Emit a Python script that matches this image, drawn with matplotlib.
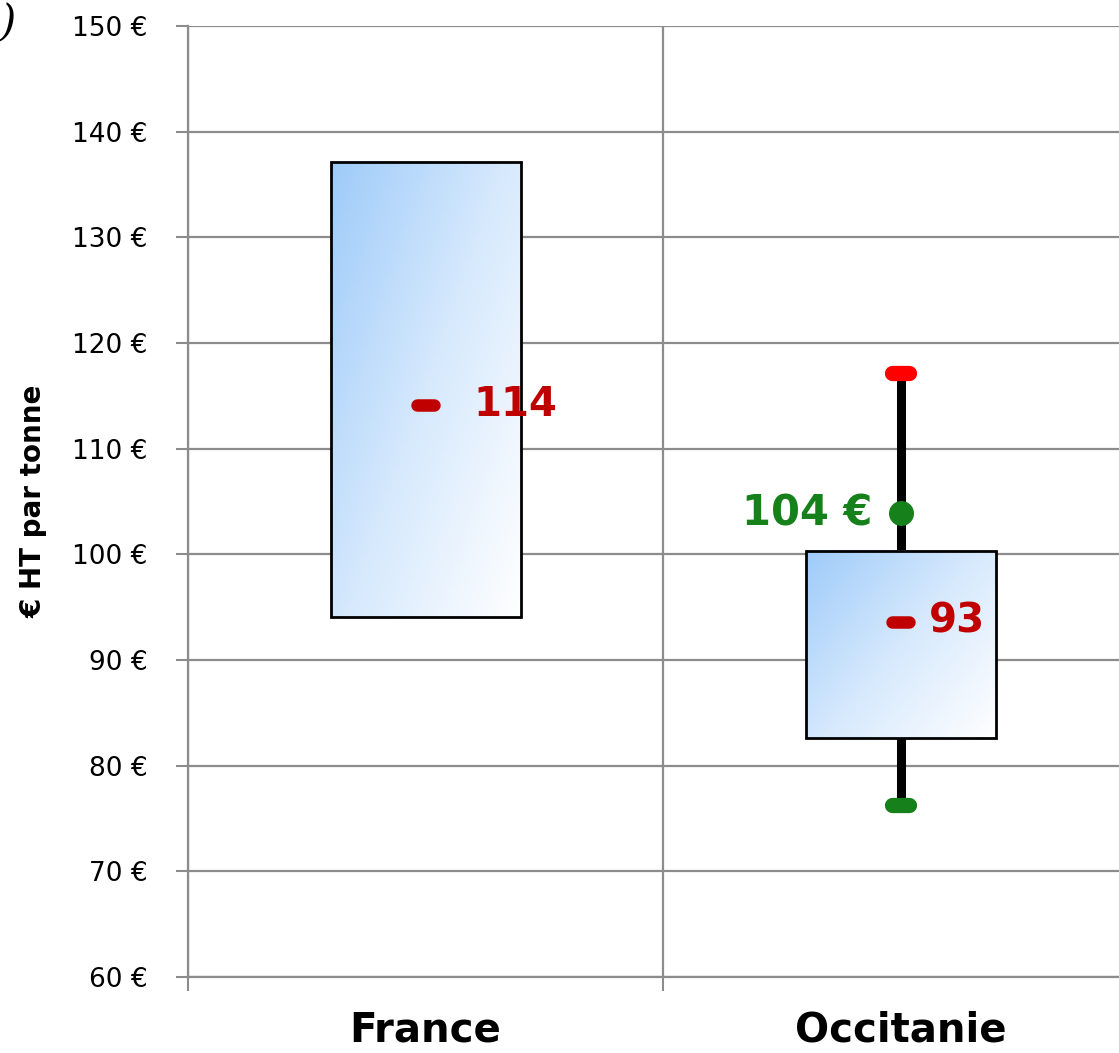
import numpy as np
import matplotlib
matplotlib.use('Agg')
import matplotlib.pyplot as plt
from matplotlib.colors import LinearSegmentedColormap

# data
regions = ['France', 'Occitanie']
box_low = [94.1, 82.6]
box_high = [137.1, 100.3]
medians = [114.1, 93.6]
median_labels = ['114', '93']
whisker_low = [None, 76.3]
whisker_high = [None, 117.2]
point_value = [None, 103.9]
point_labels = [None, '104 €']
yticks = list(range(60, 151, 10))

plt.rcParams['font.family'] = ['DejaVu Sans']

fig = plt.figure(figsize=(11.19, 10.53), dpi=100)
ax = fig.add_axes([188 / 1119, 76 / 1053, 950 / 1119, 951 / 1053])

grey = '#8c8c8c'
dark_red = '#c00000'
green = '#16801a'

ax.set_xlim(0, 2)
ax.set_ylim(60, 150)
ax.set_yticks(yticks)
ax.set_yticklabels(['%d €' % v for v in yticks], fontsize=19)
ax.set_xticks([0, 1, 2])
ax.set_xticklabels([])
ax.set_xticks([0.5, 1.5], minor=True)
ax.set_xticklabels(regions, minor=True, fontsize=29, fontweight='bold')
ax.tick_params(axis='x', which='minor', length=0, pad=24)
ax.tick_params(axis='x', which='major', length=10, width=1.5, color=grey)
ax.tick_params(axis='y', length=9, width=1.5, color=grey, pad=20)
ax.grid(True, color=grey, linewidth=1.6)
ax.set_axisbelow(True)
for side in ['top', 'right']:
    ax.spines[side].set_visible(False)
for side in ['left', 'bottom']:
    ax.spines[side].set_color(grey)
    ax.spines[side].set_linewidth(1.6)

ax.set_ylabel('€ HT par tonne', fontsize=20, fontweight='bold', labelpad=18)

cmap = LinearSegmentedColormap.from_list('bx', ['#9ecbf9', '#d6e9fd', '#ffffff'])
n = 200
u = np.linspace(0, 1, n)
uu, vv = np.meshgrid(u, u)
grad = (uu * 1.2 + vv) / 2.2

width = 0.4
for i, name in enumerate(regions):
    xc = i + 0.5
    # whisker behind the box
    if whisker_low[i] is not None:
        ax.plot([xc, xc], [whisker_low[i], whisker_high[i]], color='black', lw=6.5, zorder=3)
        ax.plot([xc - 0.017, xc + 0.017], [whisker_high[i]] * 2, color='#ff0000', lw=11,
                solid_capstyle='round', zorder=4)
        ax.plot([xc - 0.017, xc + 0.017], [whisker_low[i]] * 2, color=green, lw=11,
                solid_capstyle='round', zorder=4)
    ax.imshow(grad, cmap=cmap, aspect='auto', origin='upper', zorder=5,
              extent=(xc - width / 2, xc + width / 2, box_low[i], box_high[i]))
    ax.add_patch(plt.Rectangle((xc - width / 2, box_low[i]), width, box_high[i] - box_low[i],
                               fill=False, edgecolor='black', lw=2, zorder=6))
    ax.plot([xc - 0.018, xc + 0.018], [medians[i]] * 2, color=dark_red, lw=9,
            solid_capstyle='round', zorder=7)
    ax.text(xc + 0.1 if i == 0 else xc + 0.06, medians[i], median_labels[i], color=dark_red,
            fontsize=29, fontweight='bold', va='center', ha='left', zorder=8)
    if point_value[i] is not None:
        ax.plot([xc], [point_value[i]], 'o', color=green, ms=17, zorder=8)
        ax.text(xc - 0.06, point_value[i], point_labels[i], color=green, fontsize=30,
                fontweight='bold', va='center', ha='right', zorder=8)

# cropped panel letter in the corner
fig.text(0.0, 0.998, ')', fontsize=30, family='DejaVu Serif', style='italic', va='top', ha='left')

fig.savefig('out.png', dpi=100)
